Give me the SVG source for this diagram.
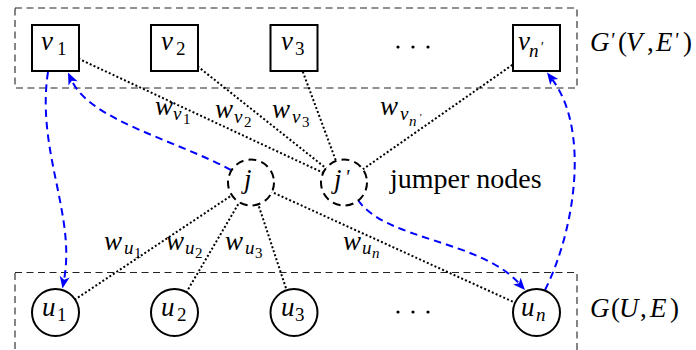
<svg xmlns="http://www.w3.org/2000/svg" width="696" height="350" viewBox="0 0 696 350">
  <style>
    .frame { fill: none; stroke: #222; stroke-width: 1.1; stroke-dasharray: 7 4.5; }
    .weighted { fill: none; stroke: #000; stroke-width: 2; stroke-dasharray: 2 2.2; }
    .jump { fill: none; stroke: #0000ff; stroke-width: 2; stroke-dasharray: 7.5 5; }
    .tip { fill: #0000ff; stroke: none; }
    .node { fill: #fff; stroke: #000; stroke-width: 2; }
    .jumper { fill: #fff; stroke: #000; stroke-width: 2; stroke-dasharray: 8 5.14; }
  </style>

  <g id="frames">
    <rect class="frame" x="15" y="8" width="562" height="80"/>
    <rect class="frame" x="15" y="272.5" width="562" height="80"/>
  </g>

  <g id="connectors">
    <line class="weighted" x1="55.5" y1="48" x2="344" y2="182.5"/>
    <line class="weighted" x1="174.5" y1="48" x2="344" y2="182.5"/>
    <line class="weighted" x1="294" y1="48" x2="344" y2="182.5"/>
    <line class="weighted" x1="536.5" y1="48" x2="344" y2="182.5"/>
    <line class="weighted" x1="251" y1="182.5" x2="55.5" y2="312.5"/>
    <line class="weighted" x1="251" y1="182.5" x2="174.5" y2="312.5"/>
    <line class="weighted" x1="251" y1="182.5" x2="294" y2="312.5"/>
    <line class="weighted" x1="251" y1="182.5" x2="536.5" y2="312.5"/>
    <path class="jump" d="M48,72 C36,150 76,215 64,280"/>
    <polygon class="tip" points="62.5,288.5 69.59,277.6 64.13,279.65 59.75,275.8"/>
    <path class="jump" d="M231,170 C175,140 90,120 71.8,80.7"/>
    <polygon class="tip" points="68,72.5 77.58,81.29 71.78,80.67 68.5,85.49"/>
    <path class="jump" d="M358,200 C385,240 480,240 519,283.3"/>
    <polygon class="tip" points="525,290 513.25,284.43 518.98,283.31 520.69,277.73"/>
    <path class="jump" d="M545,290 C575,230 590,130 552.4,79.7"/>
    <polygon class="tip" points="547,72.5 558.19,79.12 552.39,79.71 550.19,85.1"/>
  </g>

  <g id="v1">
    <rect class="node" x="32" y="25" width="47" height="46"/>
    <text font-family="'Liberation Serif'" font-style="italic" font-size="27" x="41" y="50">v<tspan font-style="normal" font-size="19" x="57" y="55">1</tspan></text>
  </g>
  <g id="v2">
    <rect class="node" x="151" y="25" width="47" height="46"/>
    <text font-family="'Liberation Serif'" font-style="italic" font-size="27" x="161" y="50">v<tspan font-style="normal" font-size="19" x="176" y="55">2</tspan></text>
  </g>
  <g id="v3">
    <rect class="node" x="270.5" y="25" width="47" height="46"/>
    <text font-family="'Liberation Serif'" font-style="italic" font-size="27" x="281" y="50">v<tspan font-style="normal" font-size="19" x="295" y="55">3</tspan></text>
  </g>
  <g id="vdots">
    <circle cx="398" cy="47" r="1.6"/>
    <circle cx="413" cy="47" r="1.6"/>
    <circle cx="428" cy="47" r="1.6"/>
  </g>
  <g id="vn">
    <rect class="node" x="513" y="25" width="47" height="46"/>
    <text font-family="'Liberation Serif'" font-style="italic" font-size="27" x="518" y="50">v<tspan font-size="19" x="529" y="57">n</tspan><tspan font-size="14" x="540" y="52">'</tspan></text>
  </g>

  <g id="j">
    <circle class="jumper" cx="251" cy="182.5" r="23"/>
    <text font-family="'Liberation Serif'" font-style="italic" font-size="27" x="244" y="188">j</text>
  </g>
  <g id="jp">
    <circle class="jumper" cx="344" cy="182.5" r="23"/>
    <text font-family="'Liberation Serif'" font-style="italic" font-size="27" x="334" y="188">j<tspan font-size="20" x="345" y="184">'</tspan></text>
  </g>

  <g id="u1">
    <circle class="node" cx="55.5" cy="312.5" r="23.5"/>
    <text font-family="'Liberation Serif'" font-style="italic" font-size="27" x="42" y="316">u<tspan font-style="normal" font-size="19" x="57" y="321">1</tspan></text>
  </g>
  <g id="u2">
    <circle class="node" cx="174.5" cy="312.5" r="23.5"/>
    <text font-family="'Liberation Serif'" font-style="italic" font-size="27" x="161" y="316">u<tspan font-style="normal" font-size="19" x="177" y="321">2</tspan></text>
  </g>
  <g id="u3">
    <circle class="node" cx="294" cy="312.5" r="23.5"/>
    <text font-family="'Liberation Serif'" font-style="italic" font-size="27" x="281" y="316">u<tspan font-style="normal" font-size="19" x="295" y="321">3</tspan></text>
  </g>
  <g id="udots">
    <circle cx="398" cy="312" r="1.6"/>
    <circle cx="413" cy="312" r="1.6"/>
    <circle cx="428" cy="312" r="1.6"/>
  </g>
  <g id="un">
    <circle class="node" cx="536.5" cy="312.5" r="23.5"/>
    <text font-family="'Liberation Serif'" font-style="italic" font-size="27" x="521" y="316">u<tspan font-size="19" x="536" y="321">n</tspan></text>
  </g>

  <g id="weights">
    <text font-family="'Liberation Serif'" font-style="italic" font-size="27" x="155" y="115">w<tspan font-size="19" x="173" y="120">v</tspan><tspan font-style="normal" font-size="15" x="183" y="124">1</tspan></text>
    <text font-family="'Liberation Serif'" font-style="italic" font-size="27" x="215" y="118">w<tspan font-size="19" x="234" y="123">v</tspan><tspan font-style="normal" font-size="15" x="244" y="127">2</tspan></text>
    <text font-family="'Liberation Serif'" font-style="italic" font-size="27" x="272" y="118">w<tspan font-size="19" x="292" y="123">v</tspan><tspan font-style="normal" font-size="15" x="302" y="127">3</tspan></text>
    <text font-family="'Liberation Serif'" font-style="italic" font-size="27" x="380" y="115">w<tspan font-size="19" x="400" y="120">v</tspan><tspan font-size="15" x="409" y="126">n</tspan><tspan font-size="11" x="419" y="121">'</tspan></text>
    <text font-family="'Liberation Serif'" font-style="italic" font-size="27" x="104" y="250">w<tspan font-size="19" x="124" y="254">u</tspan><tspan font-style="normal" font-size="15" x="134" y="258">1</tspan></text>
    <text font-family="'Liberation Serif'" font-style="italic" font-size="27" x="166" y="250">w<tspan font-size="19" x="185" y="254">u</tspan><tspan font-style="normal" font-size="15" x="195" y="258">2</tspan></text>
    <text font-family="'Liberation Serif'" font-style="italic" font-size="27" x="225" y="250">w<tspan font-size="19" x="245" y="254">u</tspan><tspan font-style="normal" font-size="15" x="255" y="258">3</tspan></text>
    <text font-family="'Liberation Serif'" font-style="italic" font-size="27" x="343" y="250">w<tspan font-size="19" x="362" y="254">u</tspan><tspan font-size="15" x="372" y="258">n</tspan></text>
  </g>

  <g id="captions">
    <text font-family="'Liberation Serif'" font-style="italic" font-size="27" x="590" y="51">G<tspan font-size="20" x="610" y="47">'</tspan><tspan font-style="normal" x="618" y="51">(</tspan><tspan x="626">V</tspan><tspan font-style="normal" x="647">,</tspan><tspan x="656">E</tspan><tspan font-size="20" x="674" y="47">'</tspan><tspan font-style="normal" x="683" y="51">)</tspan></text>
    <text font-family="'Liberation Serif'" font-size="28" x="390" y="188">jumper nodes</text>
    <text font-family="'Liberation Serif'" font-style="italic" font-size="27" x="590" y="317">G<tspan font-style="normal" x="611">(</tspan><tspan x="619">U</tspan><tspan font-style="normal" x="640">,</tspan><tspan x="650">E</tspan><tspan font-style="normal" x="670">)</tspan></text>
  </g>
</svg>
